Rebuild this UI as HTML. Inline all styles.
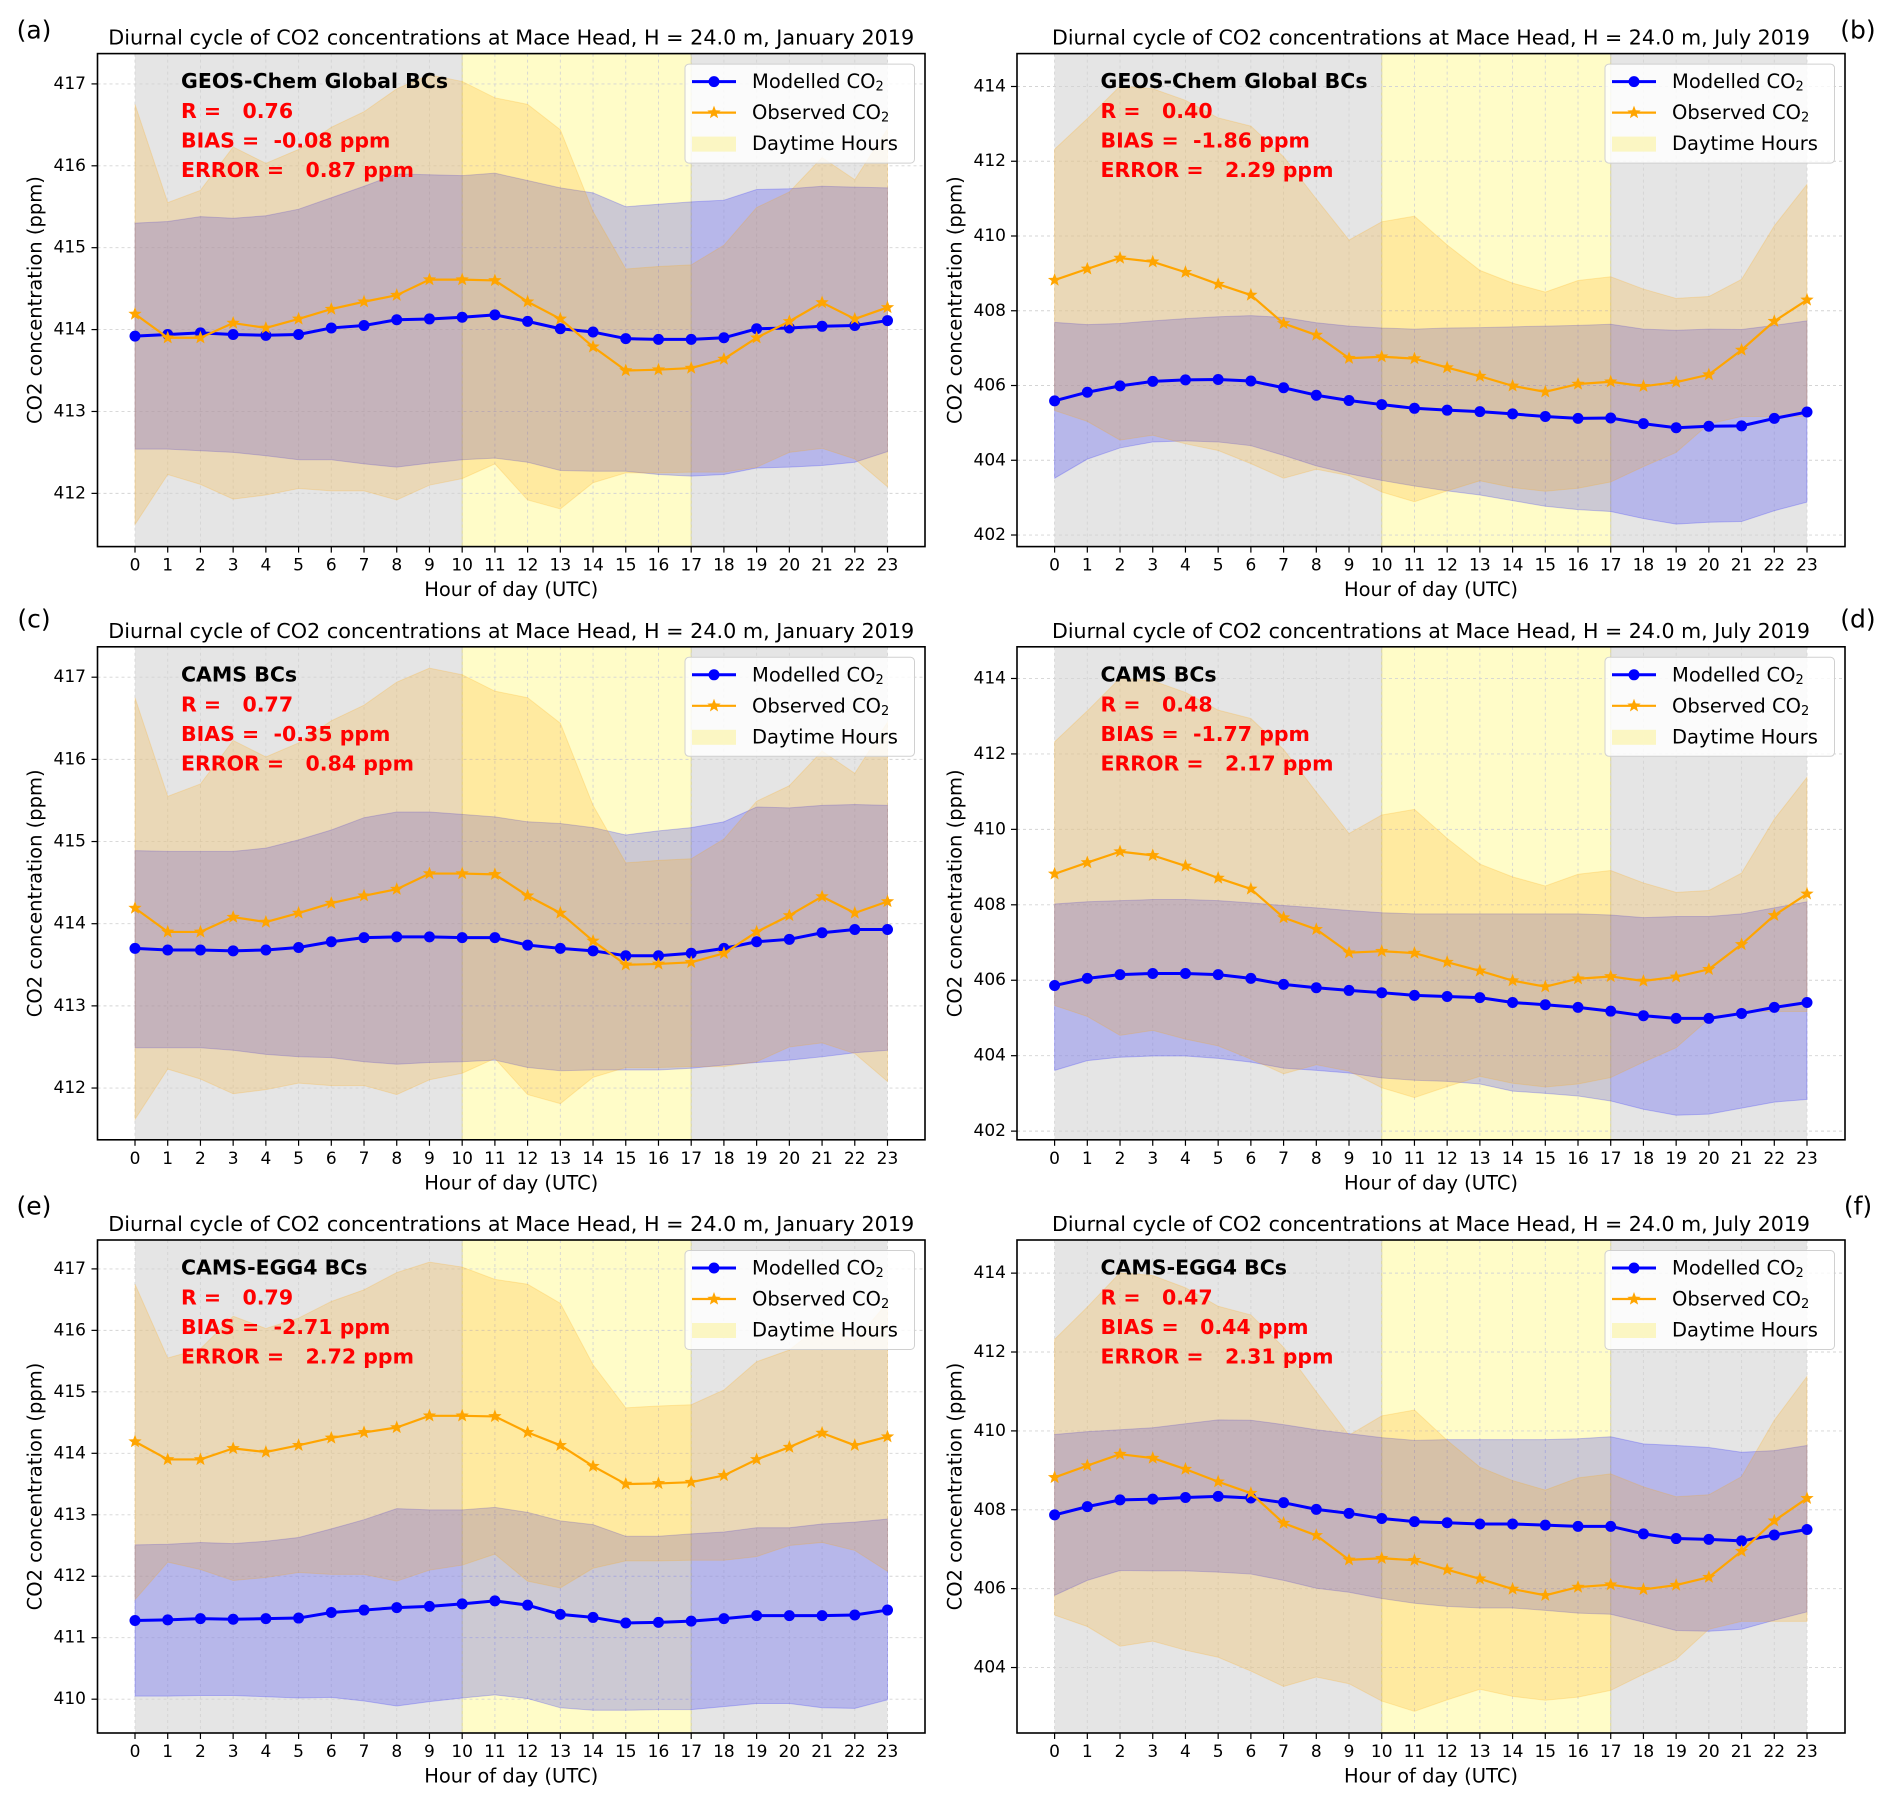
<!DOCTYPE html>
<html>
<head>
<meta charset="utf-8">
<style>
html,body{margin:0;padding:0;background:#fff;}
svg{display:block;font-family:"DejaVu Sans","Liberation Sans",sans-serif;}
</style>
</head>
<body>
<svg id="fig" width="1892" height="1806" viewBox="0 0 1892 1806" xmlns="http://www.w3.org/2000/svg"></svg>
<script>
// ---------- data ----------
const hours = [0,1,2,3,4,5,6,7,8,9,10,11,12,13,14,15,16,17,18,19,20,21,22,23];
const janObs   = [414.19,413.90,413.90,414.08,414.02,414.13,414.25,414.34,414.42,414.61,414.61,414.60,414.34,414.13,413.79,413.50,413.51,413.53,413.64,413.90,414.10,414.33,414.13,414.27];
const janObsUp = [416.75,415.55,415.70,416.23,416.03,416.20,416.47,416.66,416.94,417.11,417.03,416.83,416.75,416.44,415.44,414.74,414.77,414.79,415.03,415.49,415.68,416.10,415.83,416.45];
const janObsLo = [411.62,412.23,412.11,411.93,411.98,412.06,412.03,412.03,411.92,412.10,412.18,412.36,411.92,411.81,412.13,412.25,412.25,412.26,412.26,412.32,412.50,412.55,412.42,412.08];
const julObs   = [408.82,409.12,409.41,409.31,409.03,408.71,408.42,407.66,407.35,406.73,406.77,406.72,406.48,406.25,405.99,405.83,406.04,406.10,405.98,406.09,406.29,406.95,407.72,408.29];
const julObsUp = [412.32,413.14,414.01,413.94,413.63,413.16,412.94,412.12,410.99,409.89,410.38,410.53,409.76,409.08,408.74,408.50,408.81,408.91,408.58,408.33,408.38,408.84,410.27,411.38];
const julObsLo = [405.33,405.04,404.54,404.67,404.44,404.26,403.91,403.52,403.76,403.59,403.15,402.89,403.18,403.45,403.27,403.17,403.25,403.42,403.83,404.21,404.97,405.17,405.17,405.17];

const aModel   = [413.92,413.94,413.96,413.94,413.93,413.94,414.02,414.05,414.12,414.13,414.15,414.18,414.10,414.01,413.97,413.89,413.88,413.88,413.90,414.01,414.02,414.04,414.05,414.11];
const aModelUp = [415.30,415.32,415.38,415.36,415.39,415.47,415.61,415.75,415.90,415.89,415.88,415.91,415.82,415.73,415.67,415.50,415.53,415.56,415.58,415.71,415.72,415.75,415.74,415.73];
const aModelLo = [412.54,412.54,412.52,412.50,412.46,412.41,412.41,412.36,412.32,412.37,412.41,412.43,412.38,412.28,412.27,412.27,412.23,412.21,412.23,412.31,412.32,412.34,412.38,412.51];

const cModel   = [413.70,413.68,413.68,413.67,413.68,413.71,413.78,413.83,413.84,413.84,413.83,413.83,413.74,413.70,413.67,413.61,413.61,413.64,413.70,413.78,413.81,413.89,413.93,413.93];
const cModelUp = [414.89,414.88,414.88,414.88,414.92,415.02,415.14,415.29,415.36,415.36,415.33,415.30,415.24,415.22,415.17,415.08,415.13,415.17,415.24,415.42,415.41,415.44,415.45,415.44];
const cModelLo = [412.49,412.49,412.49,412.46,412.41,412.38,412.37,412.32,412.29,412.31,412.32,412.34,412.25,412.21,412.22,412.22,412.22,412.24,412.28,412.31,412.34,412.38,412.43,412.46];

const eModel   = [411.28,411.29,411.31,411.30,411.31,411.32,411.41,411.45,411.49,411.51,411.55,411.60,411.53,411.38,411.33,411.24,411.25,411.27,411.31,411.36,411.36,411.36,411.37,411.45];
const eModelUp = [412.51,412.52,412.55,412.53,412.57,412.63,412.77,412.92,413.10,413.08,413.08,413.12,413.04,412.90,412.84,412.65,412.65,412.69,412.72,412.79,412.79,412.85,412.88,412.93];
const eModelLo = [410.05,410.05,410.06,410.06,410.04,410.02,410.03,409.97,409.89,409.96,410.02,410.07,410.01,409.86,409.82,409.82,409.83,409.83,409.88,409.93,409.93,409.86,409.85,409.99];

const bModel   = [405.59,405.82,405.99,406.11,406.15,406.16,406.12,405.94,405.74,405.60,405.49,405.39,405.34,405.30,405.24,405.17,405.12,405.13,404.98,404.87,404.91,404.92,405.12,405.29];
const bModelUp = [407.69,407.63,407.66,407.73,407.79,407.84,407.87,407.82,407.68,407.59,407.54,407.51,407.54,407.55,407.57,407.59,407.61,407.64,407.51,407.48,407.51,407.50,407.61,407.73];
const bModelLo = [403.52,404.03,404.33,404.49,404.52,404.49,404.39,404.13,403.85,403.64,403.46,403.31,403.18,403.07,402.92,402.77,402.68,402.63,402.44,402.29,402.34,402.36,402.65,402.88];

const dModel   = [405.86,406.05,406.15,406.18,406.18,406.15,406.05,405.89,405.80,405.73,405.67,405.60,405.57,405.54,405.41,405.35,405.28,405.18,405.06,404.99,404.99,405.12,405.28,405.41];
const dModelUp = [408.02,408.08,408.11,408.14,408.14,408.11,408.05,407.98,407.92,407.85,407.79,407.76,407.76,407.76,407.76,407.76,407.76,407.73,407.66,407.69,407.69,407.76,407.92,408.08];
const dModelLo = [403.61,403.87,403.96,403.99,403.99,403.93,403.83,403.67,403.61,403.54,403.41,403.35,403.32,403.25,403.06,403.00,402.93,402.80,402.58,402.42,402.45,402.61,402.77,402.84];

const fModel   = [407.87,408.08,408.25,408.27,408.31,408.34,408.30,408.18,408.01,407.91,407.78,407.70,407.67,407.64,407.64,407.61,407.58,407.58,407.39,407.27,407.25,407.21,407.36,407.50];
const fModelUp = [409.91,409.98,410.03,410.08,410.18,410.28,410.27,410.16,410.03,409.93,409.83,409.76,409.78,409.78,409.78,409.78,409.80,409.85,409.67,409.63,409.58,409.46,409.50,409.63];
const fModelLo = [405.83,406.21,406.46,406.45,406.45,406.42,406.37,406.21,406.01,405.91,405.75,405.63,405.55,405.51,405.51,405.45,405.38,405.35,405.15,404.94,404.92,404.97,405.20,405.41];

const janTicks = [412,413,414,415,416,417];
const janTicksE = [410,411,412,413,414,415,416,417];
const julTicks = [402,404,406,408,410,412,414];
const julTicksF = [404,406,408,410,412,414];

const panelLabels = ["(a)","(b)","(c)","(d)","(e)","(f)"];
const bcNames = ["GEOS-Chem Global BCs","GEOS-Chem Global BCs","CAMS BCs","CAMS BCs","CAMS-EGG4 BCs","CAMS-EGG4 BCs"];
const rVals = ["0.76","0.40","0.77","0.48","0.79","0.47"];
const biasVals = ["-0.08","-1.86","-0.35","-1.77","-2.71","0.44"];
const errVals = ["0.87","2.29","0.84","2.17","2.72","2.31"];

// ---------- layout ----------
const NS = "http://www.w3.org/2000/svg";
const svg = document.getElementById('fig');
function mk(tag, attrs, parent){
  const e = document.createElementNS(NS, tag);
  for (const k in attrs) e.setAttribute(k, attrs[k]);
  (parent||svg).appendChild(e);
  return e;
}
const rowTop = [53.6, 646.8, 1240];
const H = 493;
const cols = [
  {L:97.5, R:925, x0:135, x23:887.5, lblX:34, ylabX:35, tickR:86, side:'left'},
  {L:1017, R:1845, x0:1054.6, x23:1807, lblX:1858, ylabX:955, tickR:1006, side:'right'}
];
const panels = [
  {col:0,row:0,ymin:411.35,ymax:417.37,ticks:janTicks,obs:janObs,obsUp:janObsUp,obsLo:janObsLo,mod:aModel,modUp:aModelUp,modLo:aModelLo,month:"January",lblY:30},
  {col:1,row:0,ymin:401.69,ymax:414.88,ticks:julTicks,obs:julObs,obsUp:julObsUp,obsLo:julObsLo,mod:bModel,modUp:bModelUp,modLo:bModelLo,month:"July",lblY:30},
  {col:0,row:1,ymin:411.37,ymax:417.37,ticks:janTicks,obs:janObs,obsUp:janObsUp,obsLo:janObsLo,mod:cModel,modUp:cModelUp,modLo:cModelLo,month:"January",lblY:619},
  {col:1,row:1,ymin:401.77,ymax:414.84,ticks:julTicks,obs:julObs,obsUp:julObsUp,obsLo:julObsLo,mod:dModel,modUp:dModelUp,modLo:dModelLo,month:"July",lblY:619},
  {col:0,row:2,ymin:409.45,ymax:417.47,ticks:janTicksE,obs:janObs,obsUp:janObsUp,obsLo:janObsLo,mod:eModel,modUp:eModelUp,modLo:eModelLo,month:"January",lblY:1206},
  {col:1,row:2,ymin:402.34,ymax:414.84,ticks:julTicksF,obs:julObs,obsUp:julObsUp,obsLo:julObsLo,mod:fModel,modUp:fModelUp,modLo:fModelLo,month:"July",lblY:1206}
];

function starPath(cx, cy, r){
  let d = '';
  for (let i=0;i<10;i++){
    const rr = i%2===0 ? r : r*0.42;
    const a = -Math.PI/2 + i*Math.PI/5;
    d += (i===0?'M':'L') + (cx+rr*Math.cos(a)).toFixed(2) + ',' + (cy+rr*Math.sin(a)).toFixed(2);
  }
  return d + 'Z';
}

panels.forEach((p, pi) => {
  const c = cols[p.col];
  const T = rowTop[p.row], B = T + H;
  const xs = h => c.x0 + (c.x23 - c.x0) * h / 23;
  const ys = v => B - (v - p.ymin) / (p.ymax - p.ymin) * H;
  const g = mk('g', {});
  
  

  const pl = mk('text', {x:c.lblX, y:p.lblY, 'font-size':25, 'text-anchor':'middle', 'dominant-baseline':'central', fill:'#000'}, g);
  pl.textContent = panelLabels[pi];
  
  

  const tt = mk('text', {x:(c.L+c.R)/2, y:T-16, 'font-size':20, 'text-anchor':'middle', 'dominant-baseline':'central', fill:'#000',
    textLength: p.month==='January'? 806 : 758, lengthAdjust:'spacingAndGlyphs'}, g);
  tt.textContent = 'Diurnal cycle of CO2 concentrations at Mace Head, H = 24.0 m, ' + p.month + ' 2019';
  
  

  const cid = 'clip' + pi;
  const cp = mk('clipPath', {id:cid}, g);
  mk('rect', {x:c.L, y:T, width:c.R-c.L, height:H}, cp);
  const inner = mk('g', {'clip-path':'url(#'+cid+')'}, g);

  const n1 = mk('rect', {x:xs(0), y:T, width:xs(10)-xs(0), height:H, fill:'#e5e5e5'}, inner);
  
  
  const n2 = mk('rect', {x:xs(17), y:T, width:xs(23)-xs(17), height:H, fill:'#e5e5e5'}, inner);
  
  
  const day = mk('rect', {x:xs(10), y:T, width:xs(17)-xs(10), height:H, fill:'#fffcc8', stroke:'#d9d59a', 'stroke-width':1}, inner);
  
  

  hours.forEach(h => {
    mk('line', {x1:xs(h), x2:xs(h), y1:T, y2:B, stroke:'#d4d4d4', 'stroke-width':0.9, 'stroke-dasharray':'3,3'}, inner);
  });
  p.ticks.forEach(v => {
    mk('line', {x1:c.L, x2:c.R, y1:ys(v), y2:ys(v), stroke:'#d4d4d4', 'stroke-width':0.9, 'stroke-dasharray':'3,3'}, inner);
  });

  function band(up, lo, fill, name){
    let d = '';
    hours.forEach((h,i) => { d += (i===0?'M':'L') + xs(h).toFixed(2) + ',' + ys(up[i]).toFixed(2); });
    for (let i=hours.length-1;i>=0;i--) d += 'L' + xs(hours[i]).toFixed(2) + ',' + ys(lo[i]).toFixed(2);
    const e = mk('path', {d:d+'Z', fill:fill, stroke:fill, 'stroke-width':1}, inner);
    
    
  }
  band(p.modUp, p.modLo, 'rgba(0,0,255,0.2)', 'modelled-std-band');
  band(p.obsUp, p.obsLo, 'rgba(255,165,0,0.2)', 'observed-std-band');

  function line(vals, color, w, name){
    const pts = hours.map((h,i) => xs(h).toFixed(2) + ',' + ys(vals[i]).toFixed(2)).join(' ');
    const e = mk('polyline', {points:pts, fill:'none', stroke:color, 'stroke-width':w, 'stroke-linejoin':'round'}, inner);
    
    
  }
  line(p.mod, '#0000ff', 3, 'modelled-co2-line');
  hours.forEach((h,i) => {
    const m = mk('circle', {cx:xs(h), cy:ys(p.mod[i]), r:5.5, fill:'#0000ff'}, inner);
    
    
  });
  line(p.obs, '#ffa500', 2.2, 'observed-co2-line');
  hours.forEach((h,i) => {
    const s = mk('path', {d:starPath(xs(h), ys(p.obs[i]), 7), fill:'#ffa500'}, inner);
    
    
  });

  const fr = mk('rect', {x:c.L, y:T, width:c.R-c.L, height:H, fill:'none', stroke:'#000', 'stroke-width':1.6}, g);
  
  

  hours.forEach(h => {
    mk('line', {x1:xs(h), x2:xs(h), y1:B, y2:B+6, stroke:'#000', 'stroke-width':1.2}, g);
    const t = mk('text', {x:xs(h), y:B+19, 'font-size':17, 'text-anchor':'middle', 'dominant-baseline':'central', fill:'#000'}, g);
    t.textContent = h;
    
    
  });
  const xl = mk('text', {x:(c.L+c.R)/2, y:B+43, 'font-size':19.5, 'text-anchor':'middle', 'dominant-baseline':'central', fill:'#000'}, g);
  xl.textContent = 'Hour of day (UTC)';
  
  

  p.ticks.forEach(v => {
    mk('line', {x1:c.L-6, x2:c.L, y1:ys(v), y2:ys(v), stroke:'#000', 'stroke-width':1.2}, g);
    const t = mk('text', {x:c.tickR, y:ys(v), 'font-size':17, 'text-anchor':'end', 'dominant-baseline':'central', fill:'#000'}, g);
    t.textContent = v;
    
    
  });
  const yl = mk('text', {x:c.ylabX, y:(T+B)/2, 'font-size':19.5, 'text-anchor':'middle', 'dominant-baseline':'central', fill:'#000',
    transform:'rotate(-90 '+c.ylabX+' '+((T+B)/2)+')'}, g);
  yl.textContent = 'CO2 concentration (ppm)';
  
  

  const ax = c.L + 83.5;
  const a1 = mk('text', {x:ax, y:T+27.5, 'font-size':20.5, 'font-weight':'bold', 'dominant-baseline':'central', fill:'#000'}, g);
  a1.textContent = bcNames[pi];
  
  
  const lines = ['R =   ' + rVals[pi], 'BIAS = ' + (biasVals[pi][0]==='-'?' ':'  ') + biasVals[pi] + ' ppm', 'ERROR =   ' + errVals[pi] + ' ppm'];
  const names = ['r-stat','bias-stat','error-stat'];
  lines.forEach((s, k) => {
    const t = mk('text', {x:ax, y:T+57.5+k*29.5, 'font-size':20.5, 'font-weight':'bold', 'dominant-baseline':'central', fill:'#ff0000', 'xml:space':'preserve'}, g);
    t.style.whiteSpace = 'pre';
    t.textContent = s;
    
    
  });

  const lg = mk('g', {}, g);
  
  
  const lx = c.R - 240;
  mk('rect', {x:lx, y:T+10.5, width:229.5, height:99, rx:4, fill:'rgba(255,255,255,0.82)', stroke:'#d0d0d0', 'stroke-width':1}, lg);
  const hx1 = lx + 7, hx2 = lx + 51, tx = lx + 67;
  const e1 = mk('g', {}, lg);
  
  
  mk('line', {x1:hx1, x2:hx2, y1:T+28, y2:T+28, stroke:'#0000ff', 'stroke-width':3}, e1);
  mk('circle', {cx:(hx1+hx2)/2, cy:T+28, r:5.5, fill:'#0000ff'}, e1);
  const t1 = mk('text', {x:tx, y:T+28, 'font-size':19.5, 'dominant-baseline':'central', fill:'#000'}, e1);
  t1.innerHTML = 'Modelled CO<tspan font-size="13" dy="5">2</tspan>';
  const e2 = mk('g', {}, lg);
  
  
  mk('line', {x1:hx1, x2:hx2, y1:T+59, y2:T+59, stroke:'#ffa500', 'stroke-width':2.2}, e2);
  mk('path', {d:starPath((hx1+hx2)/2, T+59, 7), fill:'#ffa500'}, e2);
  const t2 = mk('text', {x:tx, y:T+59, 'font-size':19.5, 'dominant-baseline':'central', fill:'#000'}, e2);
  t2.innerHTML = 'Observed CO<tspan font-size="13" dy="5">2</tspan>';
  const e3 = mk('g', {}, lg);
  
  
  mk('rect', {x:hx1, y:T+83, width:hx2-hx1, height:15, fill:'#fbf6c3'}, e3);
  const t3 = mk('text', {x:tx, y:T+90, 'font-size':19.5, 'dominant-baseline':'central', fill:'#000'}, e3);
  t3.textContent = 'Daytime Hours';
});
</script>
</body>
</html>
